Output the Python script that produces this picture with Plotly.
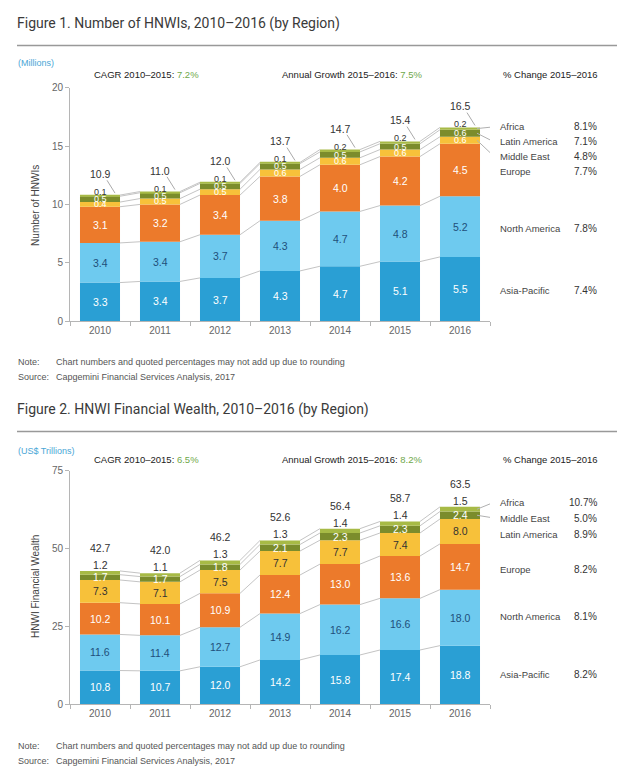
import plotly.graph_objects as go

W, H = 640, 783
years = ["2010", "2011", "2012", "2013", "2014", "2015", "2016"]

# Figure 1: Number of HNWIs (millions), stacked bottom -> top
f1_names = ["Asia-Pacific", "North America", "Europe", "Middle East", "Latin America", "Africa"]
f1_asia = [3.3, 3.4, 3.7, 4.3, 4.7, 5.1, 5.5]
f1_na = [3.4, 3.4, 3.7, 4.3, 4.7, 4.8, 5.2]
f1_eu = [3.1, 3.2, 3.4, 3.8, 4.0, 4.2, 4.5]
f1_me = [0.4, 0.5, 0.5, 0.6, 0.6, 0.6, 0.6]
f1_la = [0.5, 0.5, 0.5, 0.5, 0.5, 0.5, 0.6]
f1_af = [0.1, 0.1, 0.1, 0.1, 0.2, 0.2, 0.2]
f1_total = [10.9, 11.0, 12.0, 13.7, 14.7, 15.4, 16.5]
f1_legend = ["Africa", "Latin America", "Middle East", "Europe", "North America", "Asia-Pacific"]
f1_pct = ["8.1%", "7.1%", "4.8%", "7.7%", "7.8%", "7.4%"]

# Figure 2: HNWI Financial Wealth (US$ trillions), stacked bottom -> top
f2_names = ["Asia-Pacific", "North America", "Europe", "Latin America", "Middle East", "Africa"]
f2_asia = [10.8, 10.7, 12.0, 14.2, 15.8, 17.4, 18.8]
f2_na = [11.6, 11.4, 12.7, 14.9, 16.2, 16.6, 18.0]
f2_eu = [10.2, 10.1, 10.9, 12.4, 13.0, 13.6, 14.7]
f2_la = [7.3, 7.1, 7.5, 7.7, 7.7, 7.4, 8.0]
f2_me = [1.7, 1.7, 1.8, 2.1, 2.3, 2.3, 2.4]
f2_af = [1.2, 1.1, 1.3, 1.3, 1.4, 1.4, 1.5]
f2_total = [42.7, 42.0, 46.2, 52.6, 56.4, 58.7, 63.5]
f2_legend = ["Africa", "Middle East", "Latin America", "Europe", "North America", "Asia-Pacific"]
f2_pct = ["10.7%", "5.0%", "8.9%", "8.2%", "8.1%", "8.2%"]

# styles
C_AP, C_NA, C_EU, C_YEL, C_DOL, C_LOL = "#2a9fd4", "#6ecaef", "#ec7a2b", "#f7c13a", "#7b8c2c", "#a7ba46"
seg_colors = [C_AP, C_NA, C_EU, C_YEL, C_DOL, C_LOL]
f1_txtcol = ["white", "#1f4f7a", "white", "white", "white", "#333333"]
f2_txtcol = ["white", "#1f4f7a", "white", "#333333", "white", "#333333"]
FONT = "Liberation Sans"
TITLE_FONT = "Roboto"
BW = 0.667


def px(x):
    return x / W


def py(y):
    return 1 - y / H


# axis geometry (pixels)
X0, X1 = 70, 490
AX1 = dict(bot=320, top=83, max=20)
AX2 = dict(bot=709, top=472, max=75)


def xdata(pxx):
    return (pxx - X0) / 60 - 0.5


def ydata(pyy, ax):
    return (ax["bot"] - pyy) / (ax["bot"] - ax["top"]) * ax["max"]


fig = go.Figure()
annotations = []
shapes = []


def build(series, names, totals, txtcol, xa, ya, ax, total_leader, legend, pct, leg_y, leader_names):
    cum = [0.0] * 7
    bounds = []
    for k, vals in enumerate(series):
        fig.add_trace(go.Bar(
            x=list(range(7)), y=vals, base=cum[:], width=BW,
            marker=dict(color=seg_colors[k], line=dict(width=0)),
            xaxis=xa, yaxis=ya, showlegend=False, hoverinfo="skip"))
        mids = [c + v / 2 for c, v in zip(cum, vals)]
        cum = [c + v for c, v in zip(cum, vals)]
        bounds.append((cum[:], mids))
        small = max(vals) < 1.0
        for i, v in enumerate(vals):
            if k == len(series) - 1:
                yy, ys = cum[i], 6 if ax is AX2 else 3
            else:
                yy, ys = mids[i], 0
            annotations.append(dict(x=i, y=yy, xref=xa, yref=ya, text=f"{v:.1f}", showarrow=False,
                                    yshift=ys, xanchor="center", yanchor="middle",
                                    font=dict(family=FONT, size=9 if small else 10.5, color=txtcol[k])))
    # connectors
    lx, ly = [], []
    for top, _ in bounds:
        for i in range(6):
            lx += [i + BW / 2, i + 1 - BW / 2, None]
            ly += [top[i], top[i + 1], None]
    fig.add_trace(go.Scatter(x=lx, y=ly, mode="lines", line=dict(color="#c4c4c4", width=1),
                             xaxis=xa, yaxis=ya, showlegend=False, hoverinfo="skip"))
    # totals
    scale = ax["max"] / (ax["bot"] - ax["top"])
    top = bounds[-1][0]
    for i, t in enumerate(totals):
        annotations.append(dict(x=i, y=top[i], xref=xa, yref=ya, text=f"{t:.1f}", showarrow=False,
                                yshift=21 if total_leader else 23, xanchor="center", yanchor="middle",
                                font=dict(family=FONT, size=10.5, color="#333333")))
        if total_leader:
            shapes.append(dict(type="line", xref=xa, yref=ya, x0=i + 7 / 60, x1=i + 15 / 60,
                               y0=top[i] + 15 * scale, y1=top[i] + 2 * scale,
                               line=dict(color="#aaaaaa", width=1)))
    # legend text
    mids_by_name = {names[k]: bounds[k][1] for k in range(len(names))}
    for name, p, yy in zip(legend, pct, leg_y):
        annotations.append(dict(x=px(498), y=py(yy), xref="paper", yref="paper", text=name,
                                showarrow=False, xanchor="left", yanchor="middle",
                                font=dict(family=FONT, size=9.5, color="#444444")))
        annotations.append(dict(x=px(599), y=py(yy), xref="paper", yref="paper", text=p,
                                showarrow=False, xanchor="right", yanchor="middle",
                                font=dict(family=FONT, size=10, color="#333333")))
        if name in leader_names:
            shapes.append(dict(type="line", xref=xa, yref=ya, x0=6 + BW / 2 - 0.05, x1=xdata(494),
                               y0=mids_by_name[name][6], y1=ydata(yy, ax),
                               line=dict(color="#b0b0b0", width=1)))


build([f1_asia, f1_na, f1_eu, f1_me, f1_la, f1_af], f1_names, f1_total, f1_txtcol, "x", "y", AX1, True,
      f1_legend, f1_pct, [122.7, 138, 152.7, 168.3, 225.7, 289.3], ["Africa", "Latin America", "Middle East"])
build([f2_asia, f2_na, f2_eu, f2_la, f2_me, f2_af], f2_names, f2_total, f2_txtcol, "x2", "y2", AX2, False,
      f2_legend, f2_pct, [504, 520, 537, 572, 620, 679], ["Africa", "Middle East"])

axis_common = dict(showline=True, linecolor="#b5b5b5", linewidth=1, showgrid=False, zeroline=False,
                   tickfont=dict(family=FONT, size=10, color="#666666"), fixedrange=True)
xcommon = dict(axis_common, range=[-0.5, 6.5], domain=[px(X0), px(X1)], tickmode="array",
               tickvals=list(range(7)), ticktext=years, ticks="", ticklen=0,
               minor=dict(tickmode="array", tickvals=[i - 0.5 for i in range(8)], ticks="outside",
                          ticklen=4, tickcolor="#b5b5b5"))
ycommon = dict(axis_common, ticks="outside", ticklen=4, tickcolor="#b5b5b5")

layout_ann = []


def paper_text(x, y, text, size, color, xanchor="left", family=FONT, angle=0):
    layout_ann.append(dict(x=px(x), y=py(y), xref="paper", yref="paper", text=text, showarrow=False,
                           xanchor=xanchor, yanchor="middle", textangle=angle,
                           font=dict(family=family, size=size, color=color)))


def texts(title, ytitle, yline, unit, yunit, yhdr, cagr, growth, yaxis_title, yat, ynote):
    paper_text(15, ytitle, title, 14, "#3a3a3a", family=TITLE_FONT)
    shapes.append(dict(type="line", xref="paper", yref="paper", x0=px(17), x1=px(617), y0=py(yline), y1=py(yline),
                       line=dict(color="#999999", width=1.5)))
    paper_text(16, yunit, unit, 9, "#4aa6d6")
    paper_text(92, yhdr, f"CAGR 2010–2015: <span style='color:#6fa84a'>{cagr}</span>", 9.5, "#222222")
    paper_text(280, yhdr, f"Annual Growth 2015–2016: <span style='color:#6fa84a'>{growth}</span>", 9.5, "#222222")
    paper_text(600, yhdr, "% Change 2015–2016", 9.5, "#222222", xanchor="right")
    layout_ann.append(dict(x=px(36), y=py(yat), xref="paper", yref="paper", text=yaxis_title, textangle=-90,
                           showarrow=False, xanchor="center", yanchor="middle",
                           font=dict(family=FONT, size=10, color="#444444")))
    paper_text(16, ynote, "Note:", 9, "#555555")
    paper_text(54, ynote, "Chart numbers and quoted percentages may not add up due to rounding", 9, "#555555")
    paper_text(16, ynote + 15, "Source:", 9, "#555555")
    paper_text(54, ynote + 15, "Capgemini Financial Services Analysis, 2017", 9, "#555555")


texts("Figure 1. Number of HNWIs, 2010–2016 (by Region)", 18, 40, "(Millions)", 58, 70, "7.2%", "7.5%",
      "Number of HNWIs", 203, 362)
texts("Figure 2. HNWI Financial Wealth, 2010–2016 (by Region)", 410, 432, "(US$ Trillions)", 452, 461, "6.5%", "8.2%",
      "HNWI Financial Wealth", 590, 752)

fig.update_layout(
    width=W, height=H, margin=dict(l=0, r=0, t=0, b=0),
    paper_bgcolor="white", plot_bgcolor="rgba(0,0,0,0)",
    barmode="overlay", showlegend=False,
    xaxis=dict(xcommon, anchor="y"),
    xaxis2=dict(xcommon, anchor="y2"),
    yaxis=dict(ycommon, range=[0, 20], dtick=5, domain=[py(AX1["bot"]), py(AX1["top"])], anchor="x"),
    yaxis2=dict(ycommon, range=[0, 75], dtick=25, domain=[py(AX2["bot"]), py(AX2["top"])], anchor="x2"),
    annotations=annotations + layout_ann,
    shapes=shapes,
)

fig.write_html("out.html")
